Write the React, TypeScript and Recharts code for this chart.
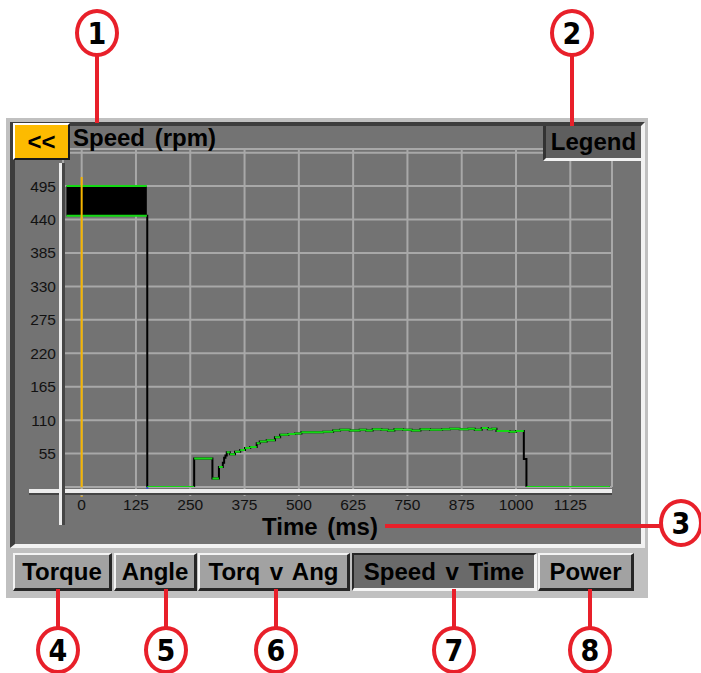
import { ComposedChart, Area, Line, XAxis, YAxis, CartesianGrid, ReferenceLine } from 'recharts'

// axis ticks
const timeTicks = [0, 125, 250, 375, 500, 625, 750, 875, 1000, 1125]
const speedTicks = [55, 110, 165, 220, 275, 330, 385, 440, 495, 550]

// fast oscillation at the start, drawn as a filled band
const bandTimes = [-35, 150]
const bandLow = [446, 446]
const bandHigh = [495, 495]

// speed trace (ms, rpm)
const stepTimes = [
  150, 151, 259, 301, 316, 325, 328, 331, 334, 341, 353, 365, 376, 388, 403, 410, 426, 445, 457, 476,
  491, 506, 556, 579, 595, 617, 640, 655, 670, 690, 705, 720, 740, 760, 780, 802, 830, 848, 870, 890,
  905, 921, 935, 945, 955, 985, 1000, 1018, 1024, 1216,
]
const stepSpeeds = [
  446, 0, 47, 14, 33, 40, 48, 52, 57, 54, 58, 61, 64, 66, 72, 75, 77, 82, 86, 87,
  88, 90, 91, 93, 94, 93, 94, 93, 95, 94, 93, 95, 94, 93, 95, 94, 95, 96, 95, 96,
  94, 97, 95, 96, 92, 91, 92, 46, 0, 0,
]

const cursorTime = 0
const markerTime = 151

const tabs = ['Torque', 'Angle', 'Torq v Ang', 'Speed v Time', 'Power']
const selectedTab = 'Speed v Time'

const FONT = '"Liberation Sans", Arial, Helvetica, sans-serif'
const RED = '#e8202a'

const tabLayout = [
  { left: 13, width: 99 },
  { left: 114, width: 83 },
  { left: 198, width: 152 },
  { left: 352, width: 185 },
  { left: 538, width: 96 },
]

const callouts = [
  { n: '1', cx: 97, cy: 33 },
  { n: '2', cx: 572, cy: 33 },
  { n: '3', cx: 681, cy: 523 },
  { n: '4', cx: 58, cy: 650 },
  { n: '5', cx: 166, cy: 650 },
  { n: '6', cx: 276, cy: 650 },
  { n: '7', cx: 454, cy: 650 },
  { n: '8', cx: 590, cy: 650 },
]

// horizontal parts of each step (the trace shows them green, the jumps black)
function greenSegments(times: number[], values: number[], minLen: number) {
  const rows: { t: number; g: number | null }[] = []
  for (let i = 0; i < times.length - 1; i++) {
    if (times[i + 1] - times[i] < minLen) continue
    rows.push({ t: times[i], g: values[i] }, { t: times[i + 1], g: values[i] }, { t: times[i + 1], g: null })
  }
  return rows
}

function Callout({ n, cx, cy }: { n: string; cx: number; cy: number }) {
  return (
    <div
      style={{
        position: 'absolute',
        left: cx - 22,
        top: cy - 24,
        width: 44,
        height: 48,
        boxSizing: 'border-box',
        border: `4px solid ${RED}`,
        borderRadius: '50%',
        background: '#fff',
        display: 'flex',
        alignItems: 'center',
        justifyContent: 'center',
        fontFamily: '"Liberation Sans Narrow", "DejaVu Sans Condensed", ' + FONT,
        fontWeight: 'bold',
        fontSize: 30,
        color: '#000',
      }}
    >
      {n}
    </div>
  )
}

function vline(x: number, y1: number, y2: number) {
  return <div style={{ position: 'absolute', left: x - 2, top: y1, width: 4, height: y2 - y1, background: RED }} />
}

export default function App() {
  const bandData = bandTimes.map((t, i) => ({ t, range: [bandLow[i], bandHigh[i]] }))
  const stepData = stepTimes.map((t, i) => ({ t, v: stepSpeeds[i] }))
  const greenData = [
    ...greenSegments(stepTimes, stepSpeeds, 7),
    ...greenSegments(bandTimes, bandHigh, 7),
    ...greenSegments(bandTimes, bandLow, 7),
  ]

  const label = { fontFamily: FONT, fontWeight: 'bold' as const, fontSize: 24, color: '#000', whiteSpace: 'pre' as const }

  return (
    <div style={{ position: 'absolute', left: 0, top: 0, width: 701, height: 673, background: '#fff', overflow: 'hidden', fontFamily: FONT }}>
      {/* device frame */}
      <div style={{ position: 'absolute', left: 6, top: 118, width: 642, height: 480, background: '#c0c0c0' }} />
      <div
        style={{
          position: 'absolute',
          left: 10,
          top: 122,
          width: 635,
          height: 426,
          boxSizing: 'border-box',
          background: '#737373',
          borderTop: '4px solid #3d3d3d',
          borderLeft: '5px solid #3d3d3d',
          borderRight: '4px solid #f2f2f2',
          borderBottom: '4px solid #f2f2f2',
        }}
      />

      <div style={{ position: 'absolute', left: 0, top: 0 }}>
        <ComposedChart width={701} height={673} margin={{ top: 149, right: 89, bottom: 156, left: 13 }}>
          <CartesianGrid stroke="#a8a8a8" strokeWidth={2} />
          <XAxis
            dataKey="t"
            type="number"
            domain={[-43, 1221]}
            allowDataOverflow
            ticks={timeTicks}
            height={30}
            axisLine={false}
            tickLine={{ stroke: '#a8a8a8', strokeWidth: 2 }}
            tickSize={9}
            tickMargin={3}
            tick={{ fill: '#111', fontSize: 15.5, fontFamily: FONT }}
          />
          <YAxis
            type="number"
            domain={[0, 556]}
            allowDataOverflow
            ticks={speedTicks}
            width={50}
            axisLine={false}
            tickLine={false}
            tickSize={0}
            tickMargin={7}
            tickFormatter={(v: number) => (v === 550 ? '' : String(v))}
            tick={{ fill: '#111', fontSize: 15.5, fontFamily: FONT }}
          />
          <Area data={bandData} dataKey="range" type="linear" stroke="none" fill="#000" fillOpacity={1} isAnimationActive={false} />
          <Line data={stepData} dataKey="v" type="stepAfter" stroke="#000" strokeWidth={2} dot={false} isAnimationActive={false} />
          <Line data={greenData} dataKey="g" type="linear" stroke="#14d814" strokeWidth={2} dot={false} connectNulls={false} isAnimationActive={false} />
          <ReferenceLine
            segment={[{ x: cursorTime, y: 510 }, { x: cursorTime, y: -16 }]}
            ifOverflow="visible"
            stroke="#f5b400"
            strokeWidth={2}
          />
          <ReferenceLine
            segment={[{ x: markerTime, y: 0 }, { x: markerTime, y: -12 }]}
            ifOverflow="visible"
            stroke="#3050d0"
            strokeWidth={2}
          />
        </ComposedChart>
      </div>

      {/* axis rails */}
      <div style={{ position: 'absolute', left: 29, top: 489, width: 583, height: 4, background: '#ececec' }} />
      <div style={{ position: 'absolute', left: 29, top: 493, width: 583, height: 2, background: '#454545' }} />
      <div style={{ position: 'absolute', left: 59, top: 163, width: 3, height: 362, background: '#ececec' }} />
      <div style={{ position: 'absolute', left: 62, top: 163, width: 3, height: 362, background: '#454545' }} />

      {/* header */}
      <div
        style={{
          position: 'absolute',
          left: 13,
          top: 123,
          width: 57,
          height: 37,
          boxSizing: 'border-box',
          background: '#fdbb00',
          borderTop: '2px solid #fff',
          borderLeft: '2px solid #fff',
          borderRight: '2px solid #1a1a1a',
          borderBottom: '2px solid #1a1a1a',
          display: 'flex',
          alignItems: 'center',
          justifyContent: 'center',
          ...label,
        }}
      >
        {'<<'}
      </div>
      <div style={{ position: 'absolute', left: 73, top: 124, lineHeight: '28px', wordSpacing: 3, ...label }}>Speed (rpm)</div>
      <div
        style={{
          position: 'absolute',
          left: 543,
          top: 126,
          width: 98,
          height: 35,
          boxSizing: 'border-box',
          background: '#5e5e5e',
          borderLeft: '3px solid #333',
          borderBottom: '3px solid #f2f2f2',
          display: 'flex',
          alignItems: 'center',
          justifyContent: 'center',
          ...label,
        }}
      >
        Legend
      </div>
      <div style={{ position: 'absolute', left: 262, top: 515, lineHeight: '24px', wordSpacing: 3, ...label }}>Time (ms)</div>

      {/* tabs */}
      {tabs.map((name, i) => {
        const sel = name === selectedTab
        const lo = '#262626'
        const hi = '#f4f4f4'
        return (
          <div
            key={name}
            style={{
              position: 'absolute',
              left: tabLayout[i].left,
              top: 553,
              width: tabLayout[i].width,
              height: 38,
              boxSizing: 'border-box',
              background: sel ? '#6a6a6a' : '#a2a2a2',
              borderTop: `2px solid ${sel ? lo : hi}`,
              borderLeft: `2px solid ${sel ? lo : hi}`,
              borderBottom: `3px solid ${sel ? hi : lo}`,
              borderRight: `3px solid ${sel ? hi : lo}`,
              display: 'flex',
              alignItems: 'center',
              justifyContent: 'center',
              wordSpacing: 3,
              ...label,
            }}
          >
            {name}
          </div>
        )
      })}

      {/* callouts */}
      {vline(97, 55, 123)}
      {vline(572, 55, 126)}
      <div style={{ position: 'absolute', left: 385, top: 524, width: 278, height: 4, background: RED }} />
      {vline(58, 589, 628)}
      {vline(166, 589, 628)}
      {vline(276, 589, 628)}
      {vline(454, 589, 628)}
      {vline(590, 589, 628)}
      {callouts.map((c) => (
        <Callout key={c.n} {...c} />
      ))}
    </div>
  )
}
